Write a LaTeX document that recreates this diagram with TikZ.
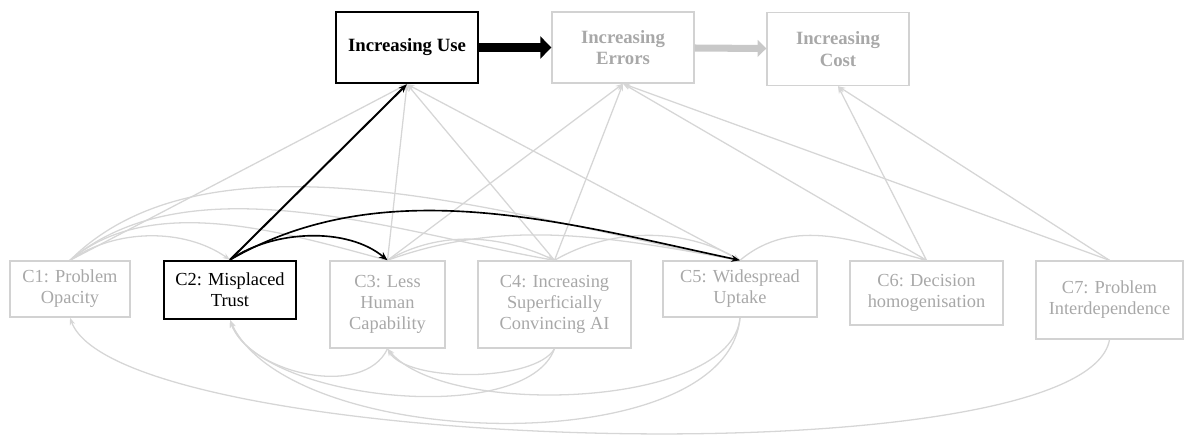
\documentclass[tikz,border=0pt]{standalone}
\usepackage{fontspec}
\setmainfont{Liberation Serif}
\usetikzlibrary{arrows.meta}
\definecolor{linegrey}{HTML}{D6D6D6}
\definecolor{boxgrey}{HTML}{D2D2D2}
\definecolor{labelgrey}{HTML}{A8A8A8}
\definecolor{flowgrey}{HTML}{C8C8C8}

\begin{document}
\begin{tikzpicture}[x=0.03cm, y=-0.03cm,
	every node/.style={rectangle, align=center, inner sep=0pt, font=\fontsize{15.7}{18}\selectfont},
	outcome/.style={draw=boxgrey, line width=1.2pt, text=labelgrey, font=\fontsize{16}{18.5}\selectfont\bfseries, minimum width=4.26cm, minimum height=2.13cm},
	cause/.style={draw=boxgrey, line width=1.2pt, text=labelgrey},
	active/.style={draw=black, text=black, line width=2pt},
	link/.style={draw=linegrey, line width=1.1pt, -{Stealth[length=2.2mm, width=1.6mm]}},
	strong/.style={draw=black, line width=1.4pt, -{Stealth[length=2.6mm, width=2mm]}}]
					\useasboundingbox (0,0) rectangle (1185,437);
					
					\node[outcome, active] (use) at (407,47.5){Increasing Use};
					\node[outcome] (errors) at (623,47.5){Increasing\\Errors};
					\node[outcome, minimum height=2.19cm] (cost) at (838,49){Increasing\\Cost};
					
					\node[cause, minimum width=3.6cm, minimum height=1.68cm] (c1) at (70,289){C1: Problem\\Opacity};
					\node[cause, active, minimum width=3.96cm, minimum height=1.74cm] (c2) at (230,290){C2: Misplaced\\Trust};
					\node[cause, minimum width=3.45cm, minimum height=2.61cm] (c3) at (387.5,304.5){C3: Less\\Human\\Capability};
					\node[cause, minimum width=4.59cm, minimum height=2.61cm] (c4) at (554.5,304.5){C4: Increasing\\Superficially\\Convincing AI};
					\node[cause, minimum width=4.62cm, minimum height=1.68cm] (c5) at (740,289){C5: Widespread\\Uptake};
					\node[cause, minimum width=4.59cm, minimum height=1.92cm] (c6) at (926.5,293){C6: Decision\\homogenisation};
					\node[cause, minimum width=4.41cm, minimum height=2.34cm] (c7) at (1109.5,300){C7: Problem\\Interdependence};
					
					\path (use) edge[draw=black, line width=8.5pt, -{Triangle[length=3.3mm, width=6.6mm]}] (errors);
					\path (errors) edge[draw=flowgrey, line width=6pt, -{Triangle[length=2.6mm, width=5mm]}] (cost);
					
					% straight links up to the outcomes
					\path (c1.north) edge[link] (use.south);
					\path (c3.north) edge[link] (use.south);
					\path (c4.north) edge[link] (use.south);
					\path (c5.north) edge[link] (use.south);
					\path (c3.north) edge[link] (errors.south);
					\path (c4.north) edge[link] (errors.south);
					\path (c6.north) edge[link] (errors.south);
					\path (c7.north) edge[link] (errors.south);
					\path (c6.north) edge[link] (cost.south);
					\path (c7.north) edge[link] (cost.south);
					
					% arcs over the causes
					\path (c1.north) edge[link, out=35, in=145, looseness=0.89] (c2.north);
					\path (c1.north) edge[link, out=40, in=165, looseness=0.86] (c3.north);
					\path (c1.north) edge[link, out=40, in=170, looseness=0.83] (c4.north);
					\path (c1.north) edge[link, out=45, in=170, looseness=0.79] (c5.north);
					\path (c3.north) edge[link, out=30, in=155, looseness=0.93] (c4.north);
					\path (c3.north) edge[link, out=20, in=170, looseness=0.93] (c5.north);
					\path (c4.north) edge[link, out=30, in=150, looseness=0.91] (c5.north);
					\path (c5.north) edge[link, out=40, in=165, looseness=0.97] (c6.north);
					
					% arcs under the causes
					\path (c4.south) edge[link, out=-120, in=-60, looseness=0.6] (c3.south);
					\path (c3.south) edge[link, out=-115, in=-70, looseness=0.9] (c2.south);
					\path (c4.south) edge[link, out=-110, in=-70, looseness=0.67] (c2.south);
					\path (c5.south) edge[link, out=-95, in=-50, looseness=0.66] (c3.south);
					\path (c5.south) edge[link, out=-95, in=-65, looseness=0.73] (c2.south);
					\path (c7.south) edge[link, out=-100, in=-70, looseness=0.354] (c1.south);
					
					% misplaced trust
					\path (c2.north) edge[strong, line width=1.7pt] (use.south);
					\path (c2.north) edge[strong, out=35, in=140, looseness=0.85] (c3.north);
					\path (c2.north) edge[strong, out=30, in=168, looseness=0.9] (c5.north);
\end{tikzpicture}
\end{document}
